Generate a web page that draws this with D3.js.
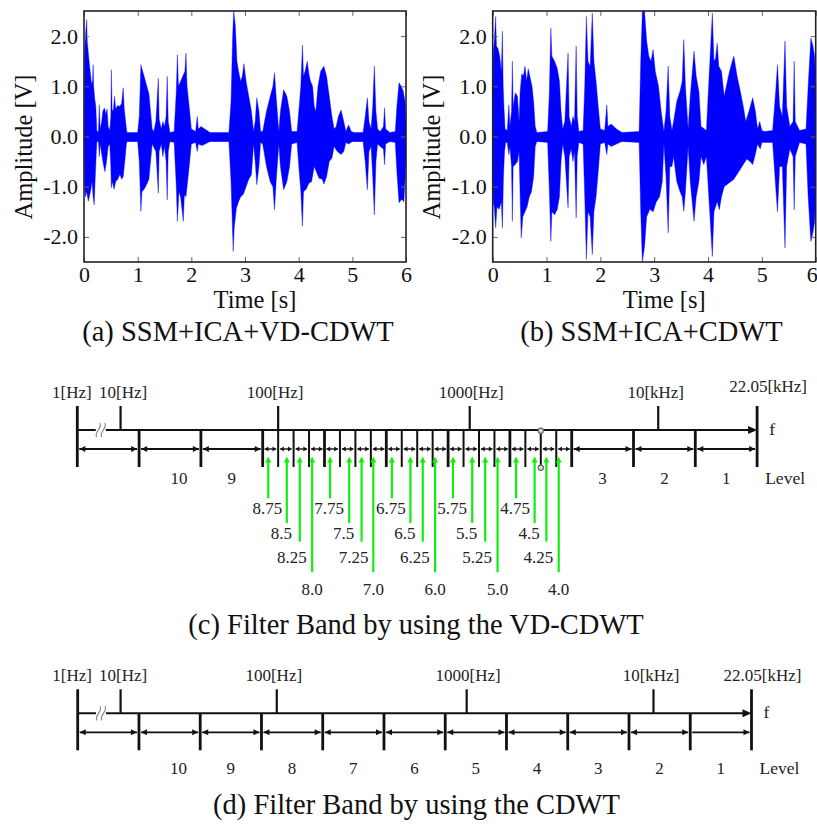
<!DOCTYPE html>
<html>
<head>
<meta charset="utf-8">
<script src="https://cdn.jsdelivr.net/npm/d3@7"></script>
<style>
  body { margin: 0; background: #fff; }
  svg { display: block; font-family: "Liberation Serif", "Times New Roman", serif; }
</style>
</head>
<body>
<svg id="fig" width="817" height="826"></svg>
<script>
/*
  Waveforms (a)/(b) + filter band diagrams (c)/(d)
*/

// envelope of the separated signal, [time s, amplitude V]
var upperA = [[0,0.1],[0.01,1.6],[0.03,2.05],[0.05,2.33],[0.06,1.9],[0.09,1.55],[0.12,1.25],[0.14,1.05],[0.16,1.1],[0.17,1.43],[0.18,1.0],[0.2,0.75],[0.22,0.6],[0.24,0.1],[0.27,0.1],[0.285,0.63],[0.3,0.15],[0.33,0.3],[0.35,0.5],[0.38,0.57],[0.41,0.45],[0.43,0.55],[0.45,0.2],[0.48,0.12],[0.5,0.4],[0.51,1.33],[0.525,0.5],[0.55,0.55],[0.57,0.8],[0.59,0.55],[0.63,0.62],[0.66,0.6],[0.7,0.65],[0.73,0.97],[0.75,0.55],[0.78,0.25],[0.8,0.08],[1.0,0.08],[1.03,0.4],[1.06,1.43],[1.08,1.35],[1.12,1.2],[1.17,1.0],[1.21,0.85],[1.24,0.5],[1.27,0.15],[1.3,0.1],[1.34,0.3],[1.385,1.16],[1.4,0.35],[1.44,0.15],[1.47,0.3],[1.5,0.2],[1.53,0.4],[1.55,1.2],[1.57,0.3],[1.6,0.08],[1.68,0.1],[1.72,0.9],[1.74,1.63],[1.76,1.0],[1.8,1.1],[1.84,1.2],[1.88,1.3],[1.9,1.66],[1.92,1.0],[1.96,0.6],[2.0,0.15],[2.08,0.1],[2.11,0.4],[2.13,0.15],[2.18,0.2],[2.25,0.15],[2.35,0.08],[2.7,0.08],[2.74,0.7],[2.77,2.0],[2.79,2.5],[2.82,2.2],[2.85,1.5],[2.88,1.3],[2.92,1.1],[2.95,1.2],[2.98,1.45],[3.02,1.1],[3.07,0.8],[3.12,0.5],[3.16,0.1],[3.19,0.3],[3.22,0.77],[3.26,0.5],[3.29,0.1],[3.33,0.1],[3.4,0.5],[3.47,0.8],[3.52,1.0],[3.55,1.27],[3.58,0.8],[3.63,0.1],[3.66,0.5],[3.72,0.93],[3.78,0.8],[3.83,0.5],[3.87,0.1],[3.97,0.1],[4.01,0.6],[4.04,1.0],[4.07,1.82],[4.09,1.2],[4.12,1.3],[4.16,1.5],[4.19,1.25],[4.22,1.1],[4.26,1.0],[4.29,0.6],[4.32,0.5],[4.36,1.0],[4.41,1.3],[4.47,1.4],[4.52,1.2],[4.57,0.8],[4.62,0.4],[4.66,0.15],[4.7,0.2],[4.74,0.4],[4.79,0.53],[4.84,0.3],[4.88,0.1],[4.93,0.23],[4.98,0.1],[5.03,0.08],[5.2,0.08],[5.24,0.4],[5.28,0.77],[5.31,0.3],[5.35,0.15],[5.38,0.6],[5.41,1.4],[5.44,0.5],[5.47,0.15],[5.52,0.1],[5.58,0.2],[5.6,0.57],[5.62,0.15],[5.7,0.08],[5.8,0.1],[5.83,0.6],[5.87,1.07],[5.91,1.0],[5.95,0.9],[5.98,0.7],[6.0,0.3]];
var lowerA = [[0,-0.1],[0.01,-1.0],[0.03,-1.2],[0.05,-1.1],[0.08,-1.29],[0.12,-1.1],[0.15,-0.9],[0.17,-1.2],[0.19,-1.36],[0.21,-0.8],[0.23,-0.3],[0.24,-0.1],[0.27,-0.1],[0.285,-0.4],[0.3,-0.15],[0.33,-0.35],[0.36,-0.55],[0.39,-0.7],[0.42,-0.5],[0.45,-0.2],[0.48,-0.15],[0.5,-0.6],[0.51,-1.02],[0.53,-0.9],[0.56,-1.05],[0.59,-0.9],[0.63,-0.85],[0.67,-0.75],[0.7,-0.85],[0.73,-0.8],[0.76,-0.5],[0.79,-0.15],[0.8,-0.1],[1.0,-0.1],[1.03,-0.5],[1.06,-1.49],[1.08,-1.1],[1.12,-1.05],[1.17,-0.95],[1.21,-0.85],[1.24,-0.5],[1.27,-0.15],[1.34,-0.3],[1.385,-1.13],[1.4,-0.3],[1.44,-0.15],[1.47,-0.4],[1.5,-0.2],[1.53,-0.5],[1.55,-1.26],[1.57,-0.3],[1.6,-0.1],[1.68,-0.12],[1.72,-1.0],[1.74,-1.69],[1.77,-1.1],[1.8,-1.2],[1.85,-1.69],[1.87,-1.16],[1.9,-1.2],[1.93,-0.9],[1.96,-0.6],[2.0,-0.15],[2.08,-0.12],[2.11,-0.3],[2.13,-0.15],[2.2,-0.18],[2.35,-0.1],[2.7,-0.1],[2.74,-0.9],[2.78,-2.29],[2.8,-1.8],[2.84,-1.43],[2.88,-1.3],[2.92,-1.2],[2.97,-1.15],[3.02,-1.0],[3.07,-0.85],[3.12,-0.76],[3.16,-0.15],[3.19,-0.5],[3.22,-0.96],[3.26,-0.6],[3.29,-0.12],[3.33,-0.15],[3.4,-0.6],[3.47,-0.9],[3.52,-1.0],[3.55,-1.46],[3.58,-0.9],[3.63,-0.15],[3.66,-0.6],[3.72,-1.06],[3.78,-0.9],[3.83,-0.6],[3.87,-0.15],[3.97,-0.12],[4.01,-0.7],[4.04,-1.09],[4.07,-1.79],[4.09,-1.1],[4.14,-1.05],[4.19,-0.93],[4.24,-0.9],[4.29,-0.6],[4.33,-0.7],[4.38,-0.83],[4.44,-0.85],[4.47,-0.95],[4.52,-0.8],[4.57,-0.5],[4.62,-0.43],[4.66,-0.2],[4.72,-0.3],[4.79,-0.36],[4.84,-0.3],[4.88,-0.12],[4.93,-0.15],[5.0,-0.1],[5.2,-0.1],[5.24,-0.5],[5.28,-1.06],[5.31,-0.3],[5.35,-0.2],[5.38,-0.8],[5.41,-1.56],[5.44,-0.5],[5.47,-0.15],[5.52,-0.2],[5.58,-0.25],[5.6,-0.56],[5.62,-0.15],[5.7,-0.1],[5.8,-0.12],[5.83,-0.7],[5.87,-1.32],[5.92,-1.25],[5.96,-1.3],[6.0,-0.5]];
var upperB = [[0,0.1],[0.01,1.7],[0.03,1.9],[0.055,2.39],[0.07,1.8],[0.1,1.75],[0.13,1.6],[0.16,1.3],[0.18,2.1],[0.195,1.0],[0.21,0.57],[0.23,0.15],[0.27,0.12],[0.3,0.63],[0.32,0.2],[0.35,0.5],[0.365,1.5],[0.38,0.6],[0.42,0.87],[0.46,0.8],[0.49,0.3],[0.51,0.9],[0.54,1.25],[0.57,1.2],[0.6,1.4],[0.63,1.1],[0.66,1.35],[0.7,1.15],[0.73,1.0],[0.76,0.7],[0.79,0.2],[0.82,0.08],[1.02,0.1],[1.05,0.8],[1.08,2.16],[1.1,1.6],[1.15,1.5],[1.2,1.35],[1.24,1.1],[1.27,0.5],[1.3,0.15],[1.34,0.3],[1.4,1.66],[1.42,0.4],[1.46,0.2],[1.49,0.4],[1.52,0.3],[1.55,1.8],[1.57,0.4],[1.6,0.1],[1.68,0.12],[1.71,1.0],[1.74,2.39],[1.77,1.5],[1.81,1.4],[1.85,2.46],[1.88,1.5],[1.92,1.1],[1.96,0.6],[2.0,0.15],[2.08,0.12],[2.12,0.63],[2.14,0.2],[2.2,0.25],[2.3,0.15],[2.4,0.08],[2.72,0.1],[2.75,1.5],[2.78,2.5],[2.82,2.5],[2.86,1.9],[2.9,1.6],[2.94,1.5],[2.98,1.73],[3.02,1.3],[3.08,1.0],[3.13,0.5],[3.18,0.1],[3.22,0.5],[3.26,1.4],[3.29,0.4],[3.33,0.12],[3.36,0.3],[3.42,0.7],[3.48,0.9],[3.52,1.1],[3.55,1.93],[3.58,1.0],[3.63,0.15],[3.67,0.8],[3.74,1.7],[3.78,1.2],[3.83,0.9],[3.87,0.2],[3.97,0.12],[4.02,1.2],[4.08,2.46],[4.11,1.5],[4.14,1.56],[4.17,1.86],[4.2,1.4],[4.25,1.3],[4.3,0.8],[4.34,1.0],[4.4,1.3],[4.45,1.5],[4.48,1.6],[4.54,1.2],[4.6,0.9],[4.66,0.57],[4.7,0.3],[4.76,0.5],[4.83,0.77],[4.88,0.5],[4.92,0.15],[4.96,0.3],[5.0,0.12],[5.05,0.1],[5.2,0.12],[5.25,0.8],[5.29,1.43],[5.33,0.6],[5.38,0.4],[5.43,1.9],[5.46,0.6],[5.52,0.2],[5.58,0.3],[5.6,1.5],[5.62,0.3],[5.7,0.12],[5.82,0.15],[5.86,1.0],[5.91,1.96],[5.95,1.8],[5.98,1.6],[6.0,1.0]];
var lowerB = [[0,-0.1],[0.01,-1.3],[0.03,-1.42],[0.055,-1.82],[0.08,-1.4],[0.12,-1.45],[0.16,-1.3],[0.18,-1.82],[0.2,-0.8],[0.22,-0.3],[0.24,-0.12],[0.27,-0.12],[0.3,-0.36],[0.32,-0.2],[0.35,-0.6],[0.365,-1.69],[0.38,-0.6],[0.42,-0.56],[0.46,-0.5],[0.49,-0.3],[0.51,-1.2],[0.53,-2.02],[0.56,-1.6],[0.6,-1.5],[0.64,-1.4],[0.68,-1.2],[0.72,-1.1],[0.76,-0.8],[0.79,-0.2],[0.82,-0.1],[1.02,-0.12],[1.05,-1.0],[1.08,-2.09],[1.1,-1.5],[1.15,-1.56],[1.2,-1.45],[1.24,-1.2],[1.27,-0.5],[1.3,-0.15],[1.34,-0.4],[1.4,-1.42],[1.42,-0.4],[1.46,-0.25],[1.49,-0.5],[1.52,-0.3],[1.55,-1.62],[1.57,-0.4],[1.6,-0.12],[1.68,-0.15],[1.71,-1.2],[1.74,-2.45],[1.77,-1.5],[1.81,-1.6],[1.85,-2.35],[1.88,-1.5],[1.92,-1.2],[1.96,-0.7],[2.0,-0.15],[2.08,-0.12],[2.12,-0.36],[2.14,-0.15],[2.2,-0.2],[2.4,-0.1],[2.72,-0.12],[2.75,-1.5],[2.78,-2.5],[2.82,-2.2],[2.86,-1.6],[2.92,-1.45],[2.98,-1.5],[3.04,-1.3],[3.1,-1.2],[3.15,-0.9],[3.18,-0.15],[3.22,-0.8],[3.26,-1.92],[3.29,-0.6],[3.33,-0.6],[3.36,-0.4],[3.42,-0.9],[3.48,-1.1],[3.52,-1.2],[3.55,-1.49],[3.58,-1.1],[3.63,-0.2],[3.67,-0.9],[3.74,-1.69],[3.78,-1.2],[3.83,-0.9],[3.87,-0.4],[3.92,-0.56],[3.97,-0.4],[4.02,-1.3],[4.08,-2.39],[4.11,-1.5],[4.17,-1.3],[4.21,-1.46],[4.25,-1.2],[4.3,-1.0],[4.36,-0.95],[4.42,-0.9],[4.48,-0.85],[4.54,-0.75],[4.6,-0.65],[4.66,-0.55],[4.72,-0.45],[4.78,-0.5],[4.83,-0.56],[4.88,-0.35],[4.92,-0.15],[4.97,-0.25],[5.0,-0.12],[5.2,-0.12],[5.25,-0.9],[5.29,-1.5],[5.33,-0.6],[5.38,-0.6],[5.43,-2.22],[5.46,-0.6],[5.52,-0.25],[5.58,-0.4],[5.6,-1.46],[5.62,-0.4],[5.7,-0.12],[5.82,-0.15],[5.86,-1.2],[5.91,-2.09],[5.95,-1.9],[5.98,-1.7],[6.0,-1.0]];

var timeTicks = [0, 1, 2, 3, 4, 5, 6];
var ampTicks = [2, 1, 0, -1, -2];

// filter band axis, position in "levels below 22.05 kHz"
var freqLabels = ["1[Hz]", "10[Hz]", "100[Hz]", "1000[Hz]", "10[kHz]", "22.05[kHz]"];
var freqLv = [11, 10.3, 7.75, 4.65, 1.6, 0];
var levelsC = [10, 9, 3, 2, 1];
var levelsD = [10, 9, 8, 7, 6, 5, 4, 3, 2, 1];
var vdLevels = [8.75, 8.5, 8.25, 8.0, 7.75, 7.5, 7.25, 7.0, 6.75, 6.5, 6.25, 6.0, 5.75, 5.5, 5.25, 5.0, 4.75, 4.5, 4.25, 4.0];
var vdArrowLv = [7.91, 7.61, 7.40, 7.20, 6.91, 6.60, 6.40, 6.21, 5.91, 5.61, 5.41, 5.21, 4.92, 4.61, 4.40, 4.20, 3.90, 3.60, 3.41, 3.21];

var svg = d3.select("#fig");
var ink = "#111";

function drawWave(left, right, upper, lower, caption){
  var top = 11, bottom = 262;
  var x = d3.scaleLinear().domain([0, 6]).range([left, right]);
  var y = d3.scaleLinear().domain([-2.5, 2.5]).range([bottom, top]);

  var g = svg.append("g");

  // both halves meet a little under zero, like the seam in the original plot
  var area = d3.area()
    .x(function(d){ return x(d[0]); })
    .y0(y(-0.09))
    .y1(function(d){ return y(d[1]); });

  g.append("path").datum(upper).attr("d", area)
    .attr("fill", "#0000ff").attr("stroke", "#0000ff").attr("stroke-width", 0.4);
  g.append("path").datum(lower).attr("d", area)
    .attr("fill", "#0000ff").attr("stroke", "#0000ff").attr("stroke-width", 0.4);

  var fmt = function(d){ return d3.format(".1f")(d).replace("\u2212", "-"); };

  // inward ticks on all four sides
  var axes = [
    {ax: d3.axisBottom(x).tickValues(timeTicks).tickFormat(d3.format("d")), tr: "translate(0," + bottom + ")", pad: 4},
    {ax: d3.axisTop(x).tickValues(timeTicks).tickFormat(""), tr: "translate(0," + top + ")", pad: 4},
    {ax: d3.axisLeft(y).tickValues(ampTicks).tickFormat(fmt), tr: "translate(" + left + ",0)", pad: 6},
    {ax: d3.axisRight(y).tickValues(ampTicks).tickFormat(""), tr: "translate(" + right + ",0)", pad: 6}
  ];
  axes.forEach(function(a){
    var ag = g.append("g")
      .attr("transform", a.tr)
      .call(a.ax.tickSizeInner(-5).tickSizeOuter(0).tickPadding(a.pad));
    ag.select(".domain").remove();
    ag.selectAll(".tick line").attr("stroke", "#666");
    ag.selectAll("text")
      .style("font-family", "Liberation Serif, serif")
      .style("font-size", "22px")
      .attr("fill", ink);
  });
  // last time label sits on the page edge for the right panel
  if(right > 800){
    g.selectAll(".tick text").filter(function(d){ return d === 6; }).attr("dx", "-4");
  }

  g.append("rect")
    .attr("x", left).attr("y", top)
    .attr("width", right - left).attr("height", bottom - top)
    .attr("fill", "none").attr("stroke", "#222").attr("stroke-width", 1.6);

  //Label for Y axis
  g.append("text")
    .attr("transform", "translate(" + (left - 61) + "," + 147 + ") rotate(-90)")
    .attr("dy", "0.35em")
    .style("text-anchor", "middle")
    .style("font-size", "24.5px")
    .attr("fill", ink)
    .text("Amplitude [V]");

  //Label for X axis
  g.append("text")
    .attr("x", (left + right) / 2 + 10).attr("y", 307.5)
    .style("text-anchor", "middle")
    .style("font-size", "24.5px")
    .attr("fill", ink)
    .text("Time [s]");

  g.append("text")
    .attr("x", caption.x).attr("y", 340.5)
    .style("text-anchor", "middle")
    .style("font-size", "28.5px")
    .attr("fill", ink)
    .text(caption.text);
}

function arrowHead(g, xTip, yTip, dir, len, half, color){
  g.append("path")
    .attr("d", "M" + xTip + "," + yTip +
      "L" + (xTip - dir * len) + "," + (yTip - half) +
      "L" + (xTip - dir * len) + "," + (yTip + half) + "Z")
    .attr("fill", color);
}

function drawBand(cfg){
  var x = d3.scaleLinear().domain([0, 11]).range([cfg.xEnd, cfg.xStart]);
  var yAx = cfg.y, yTop = cfg.y - 24, yArr = cfg.y + 19, yBot = cfg.y + 37;
  var g = svg.append("g");

  // main frequency axis
  g.append("line")
    .attr("x1", x(11)).attr("x2", x(0) - 4)
    .attr("y1", yAx).attr("y2", yAx)
    .attr("stroke", ink).attr("stroke-width", 2);
  arrowHead(g, x(0), yAx, 1, 9, 4, ink);

  // break mark between 1 Hz and 10 Hz
  var bx = x(10.62);
  g.append("rect").attr("x", bx - 5).attr("y", yAx - 3).attr("width", 10).attr("height", 6).attr("fill", "#fff");
  [-2.5, 2.5].forEach(function(o){
    g.append("path")
      .attr("d", "M" + (bx + o - 1.5) + "," + (yAx + 7) +
        "C" + (bx + o - 5) + "," + (yAx + 2) + " " + (bx + o + 5) + "," + (yAx - 2) + " " + (bx + o + 1.5) + "," + (yAx - 7))
      .attr("fill", "none").attr("stroke", "#888").attr("stroke-width", 1.2);
  });

  // frequency ticks and labels
  freqLabels.forEach(function(lab, i){
    var lv = freqLv[i];
    var full = (lv === 0 || lv === 11);
    g.append("line")
      .attr("x1", x(lv)).attr("x2", x(lv))
      .attr("y1", yTop).attr("y2", full ? yBot : yAx)
      .attr("stroke", ink).attr("stroke-width", full ? 2.8 : 2.2);
    var nudge = [-5.5, 2.5, -3, 1.5, -2.5, 11][i];
    g.append("text")
      .attr("x", x(lv) + nudge)
      .attr("y", (i === 5 ? cfg.topLabelY : cfg.labelY) + 6)
      .style("text-anchor", "middle")
      .style("font-size", "17px")
      .attr("fill", "#222")
      .text(lab);
  });

  // band dividers with double arrows
  var divs = cfg.dividers;
  divs.forEach(function(lv){
    if(lv === 0 || lv === 11) return;
    var whole = Math.abs(lv - Math.round(lv)) < 1e-6;
    g.append("line")
      .attr("x1", x(lv)).attr("x2", x(lv))
      .attr("y1", yAx).attr("y2", yBot)
      .attr("stroke", ink).attr("stroke-width", whole ? 2.8 : 2);
  });
  for(var i = 0; i < divs.length - 1; i++){
    var xa = x(divs[i]) + 2, xb = x(divs[i + 1]) - 2;
    var w = xb - xa;
    var len = Math.min(6, w * 0.32), half = w > 20 ? 3 : 2.4;
    g.append("line")
      .attr("x1", xa).attr("x2", xb)
      .attr("y1", yArr).attr("y2", yArr)
      .attr("stroke", ink).attr("stroke-width", w > 20 ? 1.8 : 1.4);
    if(!(cfg.openLast && i === divs.length - 2)) arrowHead(g, xa, yArr, -1, len, half, ink);
    arrowHead(g, xb, yArr, 1, len, half, ink);
  }

  // level numbers
  cfg.levels.forEach(function(l){
    g.append("text")
      .attr("x", x(l - 0.5) + (l === 10 ? 9 : 0))
      .attr("y", yAx + cfg.levelDy + 6)
      .style("text-anchor", "middle")
      .style("font-size", "17px")
      .attr("fill", "#222")
      .text(l);
  });
  g.append("text")
    .attr("x", cfg.xEnd + 28).attr("y", yAx + cfg.levelDy + 6)
    .style("text-anchor", "middle").style("font-size", "17.5px").attr("fill", "#222")
    .text("Level");
  g.append("text")
    .attr("x", cfg.xEnd + 15).attr("y", yAx + 5)
    .style("text-anchor", "middle").style("font-size", "17.5px").attr("fill", "#222")
    .text("f");

  if(cfg.vd){
    // marker on the 3.5 divider
    [yAx, yBot].forEach(function(yy){
      g.append("circle").attr("cx", x(3.5)).attr("cy", yy + 0.7).attr("r", 2.6)
        .attr("fill", "#ddd").attr("stroke", "#666").attr("stroke-width", 1.2);
    });
    var rowEnd = [68.3, 93, 111.7, 142.3],
        rowLab = [78.3, 103, 127.3, 158.7],
        rowDx = [-1, -5.5, -8, 0];
    vdLevels.forEach(function(v, k){
      var q = 3 - Math.round((v - Math.floor(v)) * 4);
      var ax = x(vdArrowLv[k]);
      var tip = yArr + 7.5;
      g.append("line")
        .attr("x1", ax).attr("x2", ax)
        .attr("y1", tip + 5).attr("y2", yAx + rowEnd[q])
        .attr("stroke", "#11ee11").attr("stroke-width", 2.2);
      g.append("path")
        .attr("d", "M" + ax + "," + tip + "L" + (ax - 3) + "," + (tip + 6) + "L" + (ax + 3) + "," + (tip + 6) + "Z")
        .attr("fill", "#11ee11");
      g.append("text")
        .attr("x", ax + rowDx[q])
        .attr("y", yAx + rowLab[q] + 6)
        .style("text-anchor", "middle")
        .style("font-size", "17px")
        .attr("fill", "#222")
        .text(Number.isInteger(v) ? v.toFixed(1) : String(v));
    });
  }

  svg.append("text")
    .attr("x", cfg.caption.x).attr("y", cfg.caption.y)
    .style("text-anchor", "middle")
    .style("font-size", "28.5px")
    .attr("fill", ink)
    .text(cfg.caption.text);
}

drawWave(84, 406, upperA, lowerA, {x: 238, text: "(a) SSM+ICA+VD-CDWT"});
drawWave(492.7, 815.7, upperB, lowerB, {x: 651.5, text: "(b) SSM+ICA+CDWT"});

var quarterDivs = [11, 10, 9];
for(var q = 32; q >= 12; q--) quarterDivs.push(q / 4);
quarterDivs.push(2, 1, 0);

drawBand({
  xStart: 77.3, xEnd: 757.1, y: 430,
  labelY: 391.7, topLabelY: 386, levelDy: 47.5,
  dividers: quarterDivs, levels: levelsC, vd: true,
  caption: {x: 416, y: 634, text: "(c) Filter Band by using the VD-CDWT"}
});
drawBand({
  xStart: 77.7, xEnd: 751.5, y: 713.3,
  labelY: 675, topLabelY: 675, levelDy: 55,
  dividers: [11, 10, 9, 8, 7, 6, 5, 4, 3, 2, 1, 0], levels: levelsD, vd: false, openLast: true,
  caption: {x: 416.5, y: 814, text: "(d) Filter Band by using the CDWT"}
});
</script>
</body>
</html>
